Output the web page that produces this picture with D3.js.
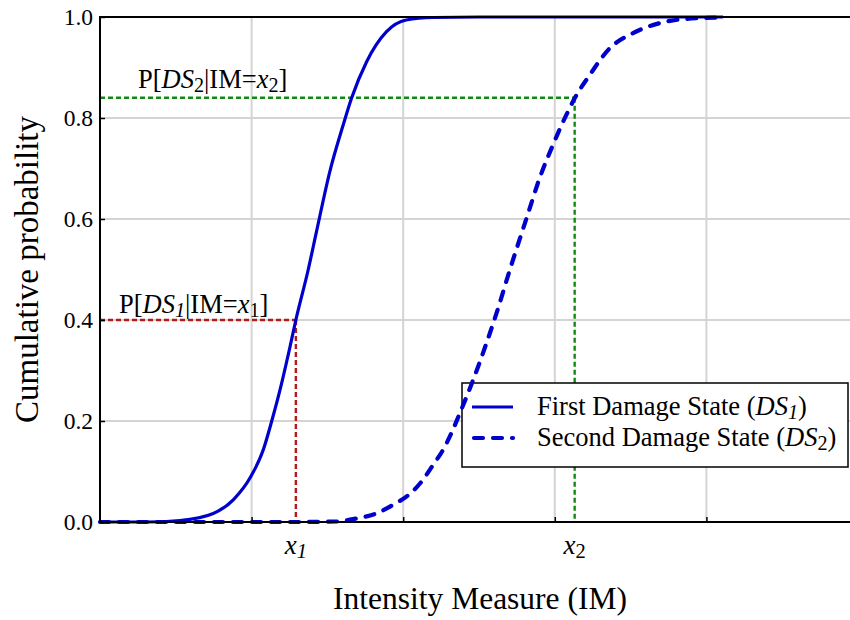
<!DOCTYPE html>
<meta charset="utf-8">
<script src="https://cdn.jsdelivr.net/npm/d3@7"></script>
<style>
  body { margin: 0; background: #fff; }
  svg { font-family: "Liberation Serif", "DejaVu Serif", serif; }
</style>
<svg id="chart" width="850" height="620"></svg>
<script>
// values
const ds1IM = [0, 0.3, 0.527, 0.747, 0.879, 0.995, 1.077, 1.132, 1.187, 1.252, 1.292, 1.373, 1.428, 1.516, 1.604, 1.659, 1.758, 1.89, 2.02, 2.2, 2.5, 3.0, 3.5, 4.11];
const ds1P  = [0, 0, 0.003, 0.017, 0.044, 0.090, 0.143, 0.199, 0.261, 0.345, 0.40, 0.499, 0.575, 0.694, 0.786, 0.839, 0.911, 0.971, 0.994, 0.999, 1, 1, 1, 1];

const ds2IM = [0, 0.5, 1.0, 1.3, 1.56, 1.692, 1.824, 1.933, 2.033, 2.121, 2.197, 2.263, 2.318, 2.373, 2.461, 2.549, 2.615, 2.703, 2.813, 2.90, 2.988, 3.076, 3.131, 3.23, 3.362, 3.516, 3.736, 3.9, 4.11];
const ds2P  = [0, 0, 0, 0, 0.001, 0.007, 0.017, 0.034, 0.053, 0.080, 0.113, 0.143, 0.176, 0.215, 0.281, 0.354, 0.413, 0.499, 0.601, 0.681, 0.747, 0.806, 0.839, 0.885, 0.938, 0.968, 0.991, 0.997, 0.999];

const gridX = [1, 2, 3, 4];
const yTicks = [0, 0.2, 0.4, 0.6, 0.8, 1.0];

// the two marked points: x1 on DS1, x2 on DS2
const x1 = 1.292, p1 = 0.40;
const x2 = 3.131, p2 = 0.84;

const legendNames = ["First Damage State", "Second Damage State"];

const svg = d3.select("#chart");
const mLeft = 100, mRight = 858, mTop = 17, mBottom = 522;

const x = d3.scaleLinear().domain([0, 5]).range([mLeft, mRight]);
const y = d3.scaleLinear().domain([0, 1]).range([mBottom, mTop]);

const blue = "#0000cc";

// grid
svg.append("g").selectAll("line").data(gridX).join("line")
    .attr("x1", d => x(d)).attr("x2", d => x(d))
    .attr("y1", mTop).attr("y2", mBottom)
    .attr("stroke", "#d4d4d4").attr("stroke-width", 2);
svg.append("g").selectAll("line").data(yTicks.slice(1, -1)).join("line")
    .attr("x1", mLeft).attr("x2", mRight)
    .attr("y1", d => y(d)).attr("y2", d => y(d))
    .attr("stroke", "#d4d4d4").attr("stroke-width", 2);

// guide lines
function guide(xv, pv, color) {
    const g = svg.append("g").attr("stroke", color).attr("stroke-width", 2.4)
        .attr("stroke-dasharray", "5,3").attr("fill", "none");
    g.append("line").attr("x1", x(0)).attr("x2", x(xv)).attr("y1", y(pv)).attr("y2", y(pv));
    g.append("line").attr("x1", x(xv)).attr("x2", x(xv)).attr("y1", y(pv)).attr("y2", y(0));
}
guide(x1, p1, "#b31b1b");
guide(x2, p2, "#118a11");

// legend box (curves are drawn over it, as in the original)
const lg = svg.append("g");
lg.append("rect").attr("x", 462).attr("y", 383).attr("width", 386).attr("height", 84)
    .attr("fill", "#fff").attr("stroke", "#000").attr("stroke-width", 1.5);

// curves
const line = d3.line().x(d => x(d[0])).y(d => y(d[1])).curve(d3.curveMonotoneX);
svg.append("path").datum(d3.zip(ds1IM, ds1P))
    .attr("d", line).attr("fill", "none").attr("stroke", blue).attr("stroke-width", 3.2);
svg.append("path").datum(d3.zip(ds2IM, ds2P))
    .attr("d", line).attr("fill", "none").attr("stroke", blue).attr("stroke-width", 4.2)
    .attr("stroke-dasharray", "9,10").attr("stroke-linecap", "round");

// frame
svg.append("rect").attr("x", mLeft).attr("y", mTop).attr("width", mRight - mLeft).attr("height", mBottom - mTop)
    .attr("fill", "none").attr("stroke", "#000").attr("stroke-width", 2);

// inward ticks
const yAxis = svg.append("g").attr("transform", `translate(${mLeft},0)`)
    .call(d3.axisRight(y).tickValues(yTicks).tickSize(5).tickFormat(""));
yAxis.select(".domain").remove();
yAxis.selectAll("line").attr("stroke", "#000").attr("stroke-width", 1.5);
const xAxis = svg.append("g").attr("transform", `translate(0,${mBottom})`)
    .call(d3.axisTop(x).tickValues(gridX).tickSize(5).tickFormat(""));
xAxis.select(".domain").remove();
xAxis.selectAll("line").attr("stroke", "#000").attr("stroke-width", 1.5);

// y tick labels
svg.append("g").selectAll("text").data(yTicks).join("text")
    .attr("x", mLeft - 7).attr("y", d => y(d)).attr("dy", "0.35em")
    .attr("text-anchor", "end").attr("font-size", 23.5).attr("fill", "#000")
    .text(d => d3.format(".1f")(d));

// rich text helper: parts = [text, italic, subscript]
function rich(sel, parts, size) {
    parts.forEach(([t, it, sub]) => {
        const ts = sel.append("tspan").text(t)
            .attr("font-style", it ? "italic" : "normal");
        if (sub) ts.attr("font-size", size * 0.76).attr("baseline-shift", "-20%");
    });
    return sel;
}

// x tick labels x1, x2
rich(svg.append("text").attr("x", x(x1)).attr("y", 554).attr("text-anchor", "middle").attr("font-size", 27),
    [["x", true], ["1", true, true]], 27);
rich(svg.append("text").attr("x", x(x2)).attr("y", 554).attr("text-anchor", "middle").attr("font-size", 27),
    [["x", true], ["2", false, true]], 27);

// annotation labels
rich(svg.append("text").attr("x", 119).attr("y", 313).attr("font-size", 26.5),
    [["P[", false], ["DS", true], ["1", true, true], ["|IM=", false], ["x", true], ["1", false, true], ["]", false]], 26.5);
rich(svg.append("text").attr("x", 138).attr("y", 88).attr("font-size", 26.5),
    [["P[", false], ["DS", true], ["2", false, true], ["|IM=", false], ["x", true], ["2", false, true], ["]", false]], 26.5);

// axis titles
svg.append("text").attr("x", (mLeft + mRight) / 2 + 1).attr("y", 609)
    .attr("text-anchor", "middle").attr("font-size", 31.5).text("Intensity Measure (IM)");
svg.append("text").attr("transform", `translate(38,${(mTop + mBottom) / 2}) rotate(-90)`)
    .attr("text-anchor", "middle").attr("font-size", 33).text("Cumulative probability");

// legend entries
const rows = [407, 438];
lg.append("line").attr("x1", 472).attr("x2", 513).attr("y1", rows[0]).attr("y2", rows[0])
    .attr("stroke", blue).attr("stroke-width", 3.2);
lg.append("line").attr("x1", 474).attr("x2", 513).attr("y1", rows[1]).attr("y2", rows[1])
    .attr("stroke", blue).attr("stroke-width", 4.2).attr("stroke-dasharray", "9,10").attr("stroke-linecap", "round");
rich(lg.append("text").attr("x", 537).attr("y", rows[0] + 8).attr("font-size", 26.5),
    [[legendNames[0] + " (", false], ["DS", true], ["1", true, true], [")", false]], 26.5);
rich(lg.append("text").attr("x", 537).attr("y", rows[1] + 8).attr("font-size", 26.5),
    [[legendNames[1] + " (", false], ["DS", true], ["2", false, true], [")", false]], 26.5);
</script>
